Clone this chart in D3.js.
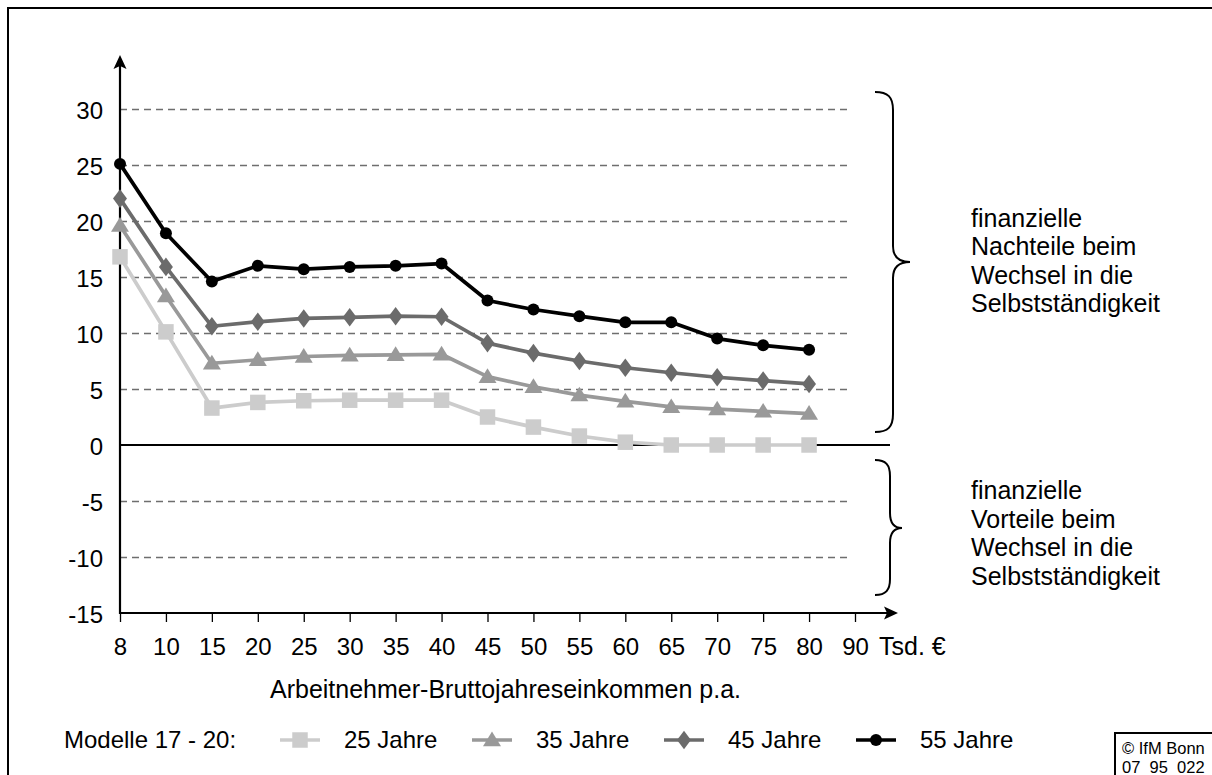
<!DOCTYPE html>
<html>
<head>
<meta charset="utf-8">
<script src="https://cdn.jsdelivr.net/npm/d3@7"></script>
<style>
  html, body { margin: 0; padding: 0; background: #fff; }
  svg { display: block; font-family: "Liberation Sans", Arial, sans-serif; }
</style>
</head>
<body>
<svg id="chart" width="1212" height="775"></svg>
<script>
// ---- data ----
const categories = ["8","10","15","20","25","30","35","40","45","50","55","60","65","70","75","80","90"];
const dataCategories = ["8","10","15","20","25","30","35","40","45","50","55","60","65","70","75","80"];
const seriesNames = ["25 Jahre","35 Jahre","45 Jahre","55 Jahre"];
const values25 = [16.8, 10.1, 3.3, 3.8, 3.95, 4.0, 4.0, 4.0, 2.5, 1.6, 0.8, 0.25, 0, 0, 0, 0];
const values35 = [19.6, 13.3, 7.3, 7.6, 7.9, 8.0, 8.05, 8.1, 6.1, 5.2, 4.45, 3.9, 3.4, 3.2, 3.0, 2.8];
const values45 = [22.0, 15.9, 10.6, 11.0, 11.3, 11.4, 11.5, 11.45, 9.1, 8.2, 7.5, 6.9, 6.45, 6.05, 5.75, 5.45];
const values55 = [25.1, 18.9, 14.6, 16.0, 15.7, 15.9, 16.0, 16.2, 12.9, 12.1, 11.5, 10.95, 10.95, 9.5, 8.9, 8.5];
const yTicks = [-15, -10, -5, 0, 5, 10, 15, 20, 25, 30];
const legendTitle = "Modelle 17 - 20:";
const xUnit = "Tsd. €";
const xTitle = "Arbeitnehmer-Bruttojahreseinkommen p.a.";
const upperNote = ["finanzielle", "Nachteile beim", "Wechsel in die", "Selbstständigkeit"];
const lowerNote = ["finanzielle", "Vorteile beim", "Wechsel in die", "Selbstständigkeit"];
const credit = ["© IfM Bonn", "07  95  022"];

// ---- setup ----
const svg = d3.select("#chart");
const FONT = 25;
const FF = "Liberation Sans, Arial, sans-serif";
const x = d3.scalePoint().domain(categories).range([120, 855]);
const y = d3.scaleLinear().domain([-15, 30]).range([613, 109]);

// outer frame
svg.append("rect").attr("x", 8).attr("y", 8).attr("width", 1230).attr("height", 800)
  .attr("fill", "none").attr("stroke", "#000").attr("stroke-width", 2);

// grid (dashed)
svg.append("g").attr("transform", "translate(120,0)")
  .call(d3.axisLeft(y).tickValues(yTicks.filter(v => v !== 0 && v !== -15)).tickSize(-730).tickFormat(""))
  .call(g => g.select(".domain").remove())
  .call(g => g.selectAll("line").attr("stroke", "#6e6e6e").attr("stroke-width", 1.6).attr("stroke-dasharray", "7,5"));

// zero line
svg.append("line").attr("x1", 120).attr("x2", 890).attr("y1", y(0)).attr("y2", y(0))
  .attr("stroke", "#000").attr("stroke-width", 2.2);

// y axis labels
svg.append("g").attr("transform", "translate(120,0)")
  .call(d3.axisLeft(y).tickValues(yTicks).tickSize(0).tickPadding(17).tickFormat(d => String(d)))
  .call(g => g.select(".domain").remove())
  .call(g => g.selectAll("text").attr("font-size", 24).attr("fill", "#000")
      .attr("font-family", FF).attr("dy", "0.38em"));

// x axis
svg.append("g").attr("transform", `translate(0,${y(-15)})`)
  .call(d3.axisBottom(x).tickSize(9).tickPadding(16))
  .call(g => g.select(".domain").remove())
  .call(g => g.selectAll("line").attr("stroke", "#000").attr("stroke-width", 1.3))
  .call(g => g.selectAll("text").attr("font-size", 24).attr("fill", "#000").attr("font-family", FF));

// axis lines with arrows
svg.append("line").attr("x1", 120).attr("x2", 120).attr("y1", y(-15) + 1).attr("y2", 60)
  .attr("stroke", "#000").attr("stroke-width", 2.2);
svg.append("path").attr("d", "M120,55 L126.5,69 L120,66 L113.5,69 Z").attr("fill", "#000");
svg.append("line").attr("x1", 119).attr("x2", 893).attr("y1", y(-15)).attr("y2", y(-15))
  .attr("stroke", "#000").attr("stroke-width", 2.2);
svg.append("path").attr("d", `M898,${y(-15)} L884,${y(-15)-6.5} L887,${y(-15)} L884,${y(-15)+6.5} Z`).attr("fill", "#000");

// unit and title
svg.append("text").attr("x", 879).attr("y", 655).attr("font-size", FONT).text(xUnit);
svg.append("text").attr("x", 270).attr("y", 698).attr("font-size", FONT).text(xTitle);

// ---- series ----
const shapes = {
  square: s => `M${-s/2},${-s/2}h${s}v${s}h${-s}Z`,
  triangle: s => `M0,${-s*0.55}L${s*0.58},${s*0.4}L${-s*0.58},${s*0.4}Z`,
  diamond: s => `M0,${-s*0.6}L${s*0.45},0L0,${s*0.6}L${-s*0.45},0Z`,
};
const series = [
  { name: seriesNames[0], values: values25, color: "#cccccc", shape: "square", size: 15.5 },
  { name: seriesNames[1], values: values35, color: "#999999", shape: "triangle", size: 15.5 },
  { name: seriesNames[2], values: values45, color: "#6b6b6b", shape: "diamond", size: 15.5 },
  { name: seriesNames[3], values: values55, color: "#000000", shape: "circle", size: 12 },
];
const line = d3.line().x((d, i) => x(dataCategories[i])).y(d => y(d));

function drawMarker(g, s, cx, cy) {
  if (s.shape === "circle") {
    g.append("circle").attr("cx", cx).attr("cy", cy).attr("r", s.size / 2).attr("fill", s.color);
  } else {
    g.append("path").attr("d", shapes[s.shape](s.size))
      .attr("transform", `translate(${cx},${cy})`).attr("fill", s.color);
  }
}

series.forEach(s => {
  const g = svg.append("g");
  g.append("path").datum(s.values).attr("d", line).attr("fill", "none")
    .attr("stroke", s.color).attr("stroke-width", 3.7).attr("stroke-linejoin", "round");
  s.values.forEach((v, i) => drawMarker(g, s, x(dataCategories[i]), y(v)));
});

// ---- braces and notes ----
svg.append("path")
  .attr("d", "M875,92 C888,92 893,97 893,110 L893,246 C893,256 898,262 910,262 C898,262 893,268 893,278 L893,414 C893,427 888,432 875,432")
  .attr("fill", "none").attr("stroke", "#000").attr("stroke-width", 2);
svg.append("path")
  .attr("d", "M875,460 C886,460 890,465 890,476 L890,513 C890,523 894,528 902,528 C894,528 890,533 890,543 L890,579 C890,590 886,595 875,595")
  .attr("fill", "none").attr("stroke", "#000").attr("stroke-width", 2);

upperNote.forEach((t, i) => svg.append("text").attr("x", 971).attr("y", 227 + i * 28.3).attr("font-size", FONT).text(t));
lowerNote.forEach((t, i) => svg.append("text").attr("x", 971).attr("y", 499 + i * 28.5).attr("font-size", FONT).text(t));

// ---- legend ----
svg.append("text").attr("x", 64).attr("y", 748).attr("font-size", 24).text(legendTitle);
const legendPos = [300, 492, 684, 876];
series.forEach((s, i) => {
  const g = svg.append("g");
  const cx = legendPos[i], cy = 740;
  g.append("line").attr("x1", cx - 20).attr("x2", cx + 20).attr("y1", cy).attr("y2", cy)
    .attr("stroke", s.color).attr("stroke-width", 3.7);
  drawMarker(g, s, cx, cy);
  g.append("text").attr("x", cx + 44).attr("y", 748).attr("font-size", 24).text(s.name);
});

// ---- credit box ----
svg.append("rect").attr("x", 1115).attr("y", 733).attr("width", 120).attr("height", 60)
  .attr("fill", "none").attr("stroke", "#000").attr("stroke-width", 2);
credit.forEach((t, i) => svg.append("text").attr("x", 1122).attr("y", 754 + i * 19)
  .attr("font-size", 16.5).attr("xml:space", "preserve").style("white-space", "pre").text(t));
</script>
</body>
</html>
